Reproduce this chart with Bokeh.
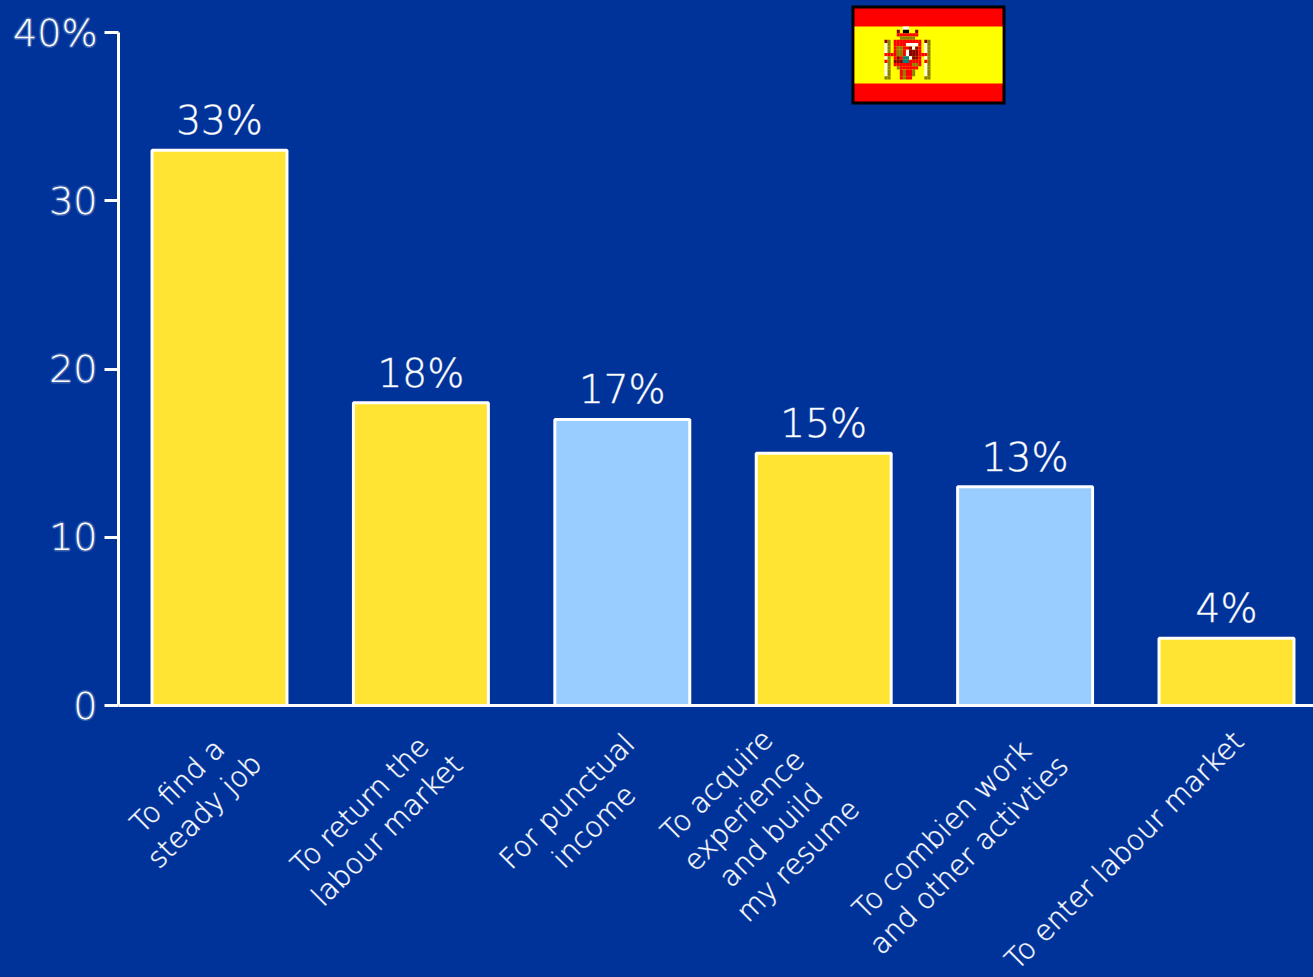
import math
from bokeh.plotting import figure
from bokeh.models import ColumnDataSource, LabelSet, FixedTicker, Range1d, LinearAxis
from bokeh.core.properties import value
from bokeh.embed import file_html
from bokeh.resources import INLINE

categories = [["To find a", "steady job"], ["To return the", "labour market"], ["For punctual", "income"],
              ["To acquire", "experience", "and build", "my resume"], ["To combien work", "and other activties"],
              ["To enter labour market"]]
values = [33, 18, 17, 15, 13, 4]
colors = ["#FFE433", "#FFE433", "#99CCFF", "#FFE433", "#99CCFF", "#FFE433"]
value_labels = ["33%", "18%", "17%", "15%", "13%", "4%"]
y_ticks = [0, 10, 20, 30, 40]
y_tick_labels = {40: "40%"}

# label block centre in screen pixels relative to (bar centre, y = 0), and per-line step
label_dx = [-28.5, -47.4, -41.8, -66.2, -69.6, -102]
label_dy = [-93, -112.5, -108.5, -117.5, -137, -145]
line_step_x, line_step_y = 27, 25

# flag emblem pixel map
emblem = [
    "......WW.......",
    "....D.KK..D....",
    "....RRRRRRR....",
    ".....OOOOO.....",
    "DO.RRRRRRRRR.DO",
    "WO.RRRRWWWWR.WO",
    "WO.ROORRDWDR.WO",
    "WO.ROORWDDDR.WO",
    "RRRROORWDDDRRRO",
    "WO.RDRTTWDDR.WO",
    "RO.DDDTTRRRR.RO",
    "WO.RRRRRROOR.WO",
    "WO..ORRRRRR..WO",
    "WO...RORRO...WO",
    "WO...RORRO...WO",
    "OO...RORR....OO",
]
emblem_colors = {"R": "#FF0000", "D": "#8B0000", "W": "#FFFFFF", "K": "#000000", "O": "#8B8000", "T": "#008080"}

W, H = 1313, 977
LEFT, BOTTOM = 118, 705
X0 = 219.0   # pixel of first bar centre
STEP = 201.4
Y_UNIT = (BOTTOM - 32) / 40

def dx(px):
    return (px - X0) / STEP

def dy(py):
    return (BOTTOM - py) / Y_UNIT

BG = "#003399"
FONT = "DejaVu Sans Light"
OUTLINE = "#ffffff70"

p = figure(width=W, height=H, output_backend="svg", toolbar_location=None,
           x_range=Range1d(dx(LEFT), dx(W)), y_range=Range1d(dy(H), dy(0)),
           min_border_left=LEFT, min_border_right=0, min_border_top=0, min_border_bottom=0,
           background_fill_color=BG, border_fill_color=BG, outline_line_color=None,
           x_axis_location=None, y_axis_location=None)
p.grid.visible = False

xs = list(range(len(values)))
src = ColumnDataSource(dict(x=xs, top=values, color=colors, vl=value_labels))
p.vbar(x="x", top="top", bottom=0, width=0.67, fill_color="color", line_color="white", line_width=3, source=src)

yaxis = LinearAxis(ticker=FixedTicker(ticks=y_ticks), bounds=(0, 40), major_label_overrides=y_tick_labels,
                   axis_line_color="white", axis_line_width=3, major_tick_line_color="white", major_tick_line_width=3,
                   major_tick_out=14, major_tick_in=0, minor_tick_line_color=None,
                   major_label_standoff=7, major_label_text_color="white", major_label_text_font=FONT,
                   major_label_text_font_size="38px", major_label_text_outline_color="#ffffff38")
p.add_layout(yaxis, "left")
xaxis = LinearAxis(ticker=FixedTicker(ticks=[]), fixed_location=0, axis_line_color="white", axis_line_width=3,
                   major_tick_line_color=None, minor_tick_line_color=None, major_label_text_color=None)
p.add_layout(xaxis, "below")

p.add_layout(LabelSet(x="x", y="top", text="vl", source=src, y_offset=7, text_align="center",
                      text_baseline="bottom", text_color="white", text_font=value(FONT), text_font_size="39px",
                      text_outline_color=OUTLINE))

lx, ly, lt, lox, loy, la = [], [], [], [], [], []
for i, lines in enumerate(categories):
    n = len(lines)
    for j, line in enumerate(lines):
        k = j - (n - 1) / 2
        lx.append(i); ly.append(0); lt.append(line)
        lox.append(label_dx[i] + k * line_step_x)
        loy.append(label_dy[i] - k * line_step_y)
        la.append(math.pi / 4)
lsrc = ColumnDataSource(dict(x=lx, y=ly, t=lt, ox=lox, oy=loy, a=la))
p.add_layout(LabelSet(x="x", y="y", text="t", source=lsrc, x_offset="ox", y_offset="oy", angle="a",
                      text_align="center", text_baseline="middle", text_color="white", text_font=value(FONT),
                      text_font_size="28.3px", text_outline_color=OUTLINE))

# flag
p.quad(left=[dx(851)], right=[dx(1005)], top=[dy(5)], bottom=[dy(104)], fill_color="#000000", line_color=None)
p.quad(left=[dx(854)], right=[dx(1002)], top=[dy(8)], bottom=[dy(101)], fill_color="#FF0000", line_color=None)
p.quad(left=[dx(854)], right=[dx(1002)], top=[dy(26)], bottom=[dy(83)], fill_color="#FFFF00", line_color=None)
cw, ch = 46.0 / 15, 53.0 / 16
L, R, T, B, C = [], [], [], [], []
for r, row in enumerate(emblem):
    for c, ch_ in enumerate(row):
        if ch_ in emblem_colors:
            L.append(dx(884 + c * cw)); R.append(dx(884 + (c + 1) * cw))
            T.append(dy(26 + r * ch)); B.append(dy(26 + (r + 1) * ch))
            C.append(emblem_colors[ch_])
p.quad(left=L, right=R, top=T, bottom=B, fill_color=C, line_color=None)

html = file_html(p, INLINE)
html = html.replace("<head>", "<head><style>html,body{margin:0;padding:0;background:#003399;overflow:hidden}</style>", 1)
open("out.html", "w").write(html)
